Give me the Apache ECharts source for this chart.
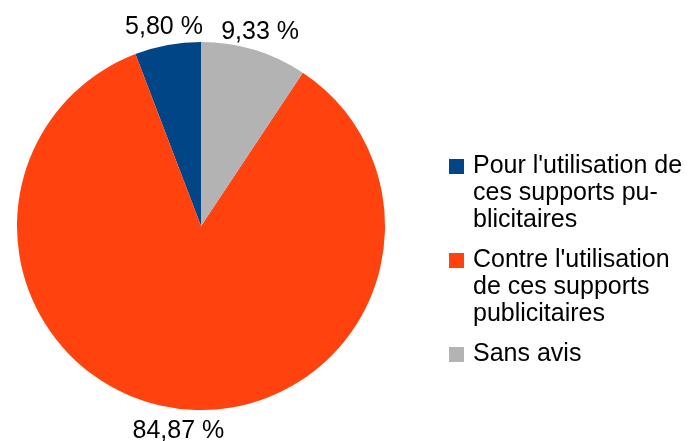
<!DOCTYPE html>
<html>
<head>
<meta charset="utf-8">
<script src="https://cdn.jsdelivr.net/npm/echarts@6/dist/echarts.min.js"></script>
<style>
  html, body { margin: 0; padding: 0; background: #fff; }
  #chart { width: 693px; height: 441px; }
</style>
</head>
<body>
<div id="chart"></div>
<script>
// == Data ====================================================================

const categories = [
  "Pour l'utilisation de ces supports publicitaires",
  "Contre l'utilisation de ces supports publicitaires",
  'Sans avis'
]
const legendLabels = [
  "Pour l'utilisation de\nces supports pu-\nblicitaires",
  "Contre l'utilisation\nde ces supports\npublicitaires",
  'Sans avis'
]
const values = [5.80, 84.87, 9.33]
const colors = ['#004586', '#ff420e', '#b3b3b3']

// == Chart ===================================================================

const center = [201, 226]
const font = 'Liberation Sans, Arial, sans-serif'

// square sitting at the top of a 3-line box, so it lines up with the first line
const topSquare = 'path://M0,0h15v15h-15zM0,69'
const square = 'path://M0,0h15v15h-15z'

const pieData = categories.map((name, i) => ({
  name,
  value: values[i],
  itemStyle: {color: colors[i]}
}))

const option = {
  animation: false,
  textStyle: {fontFamily: font},
  legend: {
    orient: 'vertical',
    left: 449,
    top: 153,
    padding: 0,
    itemWidth: 15,
    itemHeight: 69,
    itemGap: 13,
    symbolKeepAspect: true,
    selectedMode: false,
    textStyle: {fontSize: 25, lineHeight: 27, color: '#000', fontFamily: font, padding: [0, 0, 0, 4]},
    data: categories.map((name, i) => ({
      name,
      icon: legendLabels[i].indexOf('\n') >= 0 ? topSquare : square
    })),
    formatter: name => legendLabels[categories.indexOf(name)]
  },
  series: [
    {
      type: 'pie',
      center,
      radius: 184,
      startAngle: 90,
      clockwise: false,
      silent: true,
      itemStyle: {borderWidth: 0},
      label: {show: false},
      labelLine: {show: false},
      data: pieData
    },
    {
      // transparent twin, only used to put the percentages centred past the rim
      type: 'pie',
      center: [center[0], center[1] + 2],
      radius: 403,
      startAngle: 90,
      clockwise: false,
      silent: true,
      itemStyle: {color: 'rgba(0,0,0,0)', borderWidth: 0},
      label: {
        show: true,
        position: 'inside',
        color: '#000',
        fontSize: 25,
        fontFamily: font,
        formatter: p => p.value.toFixed(2).replace('.', ',') + ' %'
      },
      labelLine: {show: false},
      data: categories.map((name, i) => ({name, value: values[i]}))
    }
  ]
}

echarts.init(document.getElementById('chart')).setOption(option)
</script>
</body>
</html>
